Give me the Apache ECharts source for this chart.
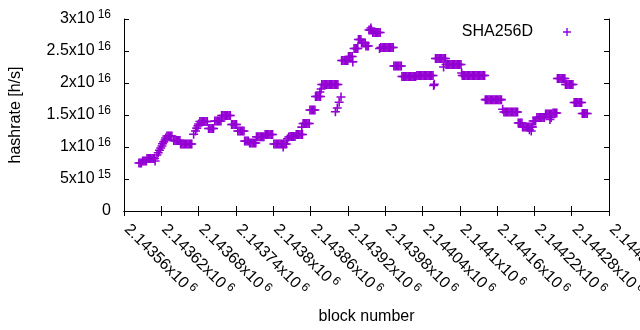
<!DOCTYPE html>
<html>
<head>
<meta charset="UTF-8">
<title>SHA256D hashrate</title>
<script src="https://cdn.jsdelivr.net/npm/echarts@6/dist/echarts.min.js"></script>
<style>
	html, body { margin: 0; padding: 0; background: #fff; }
	#chart { width: 640px; height: 330px; }
</style>
</head>
<body>
<div id="chart"></div>
<script>
	// runs of blocks sharing one hashrate level (hashrate in units of 1e15 h/s)
	var runBlocks = [
		[2143584, 2143586, 2143588],
		[2143590, 2143592, 2143594, 2143596],
		[2143597, 2143599, 2143601, 2143603, 2143605, 2143607, 2143609],
		[2143629, 2143631, 2143633, 2143635, 2143637],
		[2143640, 2143642, 2143644, 2143646, 2143648, 2143650],
		[2143651, 2143653, 2143655, 2143657, 2143659, 2143661, 2143663, 2143665, 2143667, 2143669],
		[2143682, 2143684, 2143686, 2143688, 2143690, 2143692, 2143694],
		[2143696, 2143698, 2143700, 2143702, 2143704],
		[2143706, 2143708, 2143710, 2143712, 2143714, 2143716],
		[2143717, 2143719, 2143721, 2143723, 2143725, 2143727, 2143729, 2143731],
		[2143733, 2143735, 2143737, 2143739, 2143741],
		[2143743, 2143745, 2143747, 2143749, 2143751, 2143753],
		[2143754, 2143756, 2143758, 2143760],
		[2143762, 2143764, 2143766, 2143768, 2143770, 2143772],
		[2143773, 2143775, 2143777, 2143779, 2143781, 2143783, 2143785],
		[2143787, 2143789, 2143791, 2143793, 2143795, 2143797, 2143799],
		[2143801, 2143803, 2143805, 2143807, 2143809, 2143811, 2143813, 2143815, 2143817, 2143819, 2143821],
		[2143827, 2143829, 2143831, 2143833, 2143835],
		[2143837, 2143839, 2143841, 2143843, 2143845, 2143847],
		[2143848, 2143850, 2143852, 2143854, 2143856, 2143858],
		[2143859, 2143861, 2143863, 2143865, 2143867],
		[2143868, 2143870, 2143872, 2143874, 2143876],
		[2143878, 2143880, 2143882, 2143884, 2143886, 2143888, 2143890, 2143892, 2143894, 2143896, 2143898, 2143900, 2143902, 2143904],
		[2143910, 2143912, 2143914, 2143916, 2143918, 2143920],
		[2143921, 2143923, 2143925, 2143927],
		[2143930, 2143932, 2143934, 2143936],
		[2143937, 2143939, 2143941],
		[2143942, 2143944, 2143946, 2143948],
		[2143949, 2143951, 2143953],
		[2143954, 2143956, 2143958],
		[2143960, 2143962, 2143964, 2143966, 2143968, 2143970, 2143972],
		[2143973, 2143975, 2143977, 2143979, 2143981, 2143983, 2143985, 2143987, 2143989, 2143991, 2143993],
		[2143994, 2143996, 2143998, 2144000, 2144002, 2144004, 2144006],
		[2144007, 2144009, 2144011, 2144013, 2144015, 2144017, 2144019, 2144021, 2144023, 2144025, 2144027, 2144029],
		[2144031, 2144033, 2144035, 2144037, 2144039, 2144041, 2144043, 2144045, 2144047, 2144049, 2144051, 2144053, 2144055, 2144057],
		[2144061, 2144063, 2144065, 2144067, 2144069, 2144071, 2144073, 2144075, 2144077],
		[2144078, 2144080, 2144082, 2144084, 2144086, 2144088, 2144090, 2144092, 2144094, 2144096, 2144098, 2144100, 2144102],
		[2144104, 2144106, 2144108, 2144110, 2144112, 2144114, 2144116, 2144118, 2144120, 2144122, 2144124, 2144126, 2144128, 2144130, 2144132, 2144134, 2144136, 2144138, 2144140],
		[2144141, 2144143, 2144145, 2144147, 2144149, 2144151, 2144153, 2144155, 2144157, 2144159, 2144161, 2144163, 2144165, 2144167],
		[2144171, 2144173, 2144175, 2144177, 2144179, 2144181, 2144183, 2144185, 2144187, 2144189, 2144191, 2144193],
		[2144194, 2144196, 2144198, 2144200],
		[2144201, 2144203, 2144205, 2144207, 2144209, 2144211, 2144213, 2144215, 2144217],
		[2144218, 2144220, 2144222],
		[2144224, 2144226, 2144228, 2144230, 2144232, 2144234, 2144236],
		[2144238, 2144240, 2144242, 2144244, 2144246, 2144248],
		[2144250, 2144252, 2144254, 2144256],
		[2144257, 2144259, 2144261, 2144263, 2144265, 2144267, 2144269],
		[2144270, 2144272, 2144274, 2144276, 2144278, 2144280, 2144282],
		[2144284, 2144286, 2144288, 2144290, 2144292, 2144294, 2144296],
		[2144297, 2144299, 2144301, 2144303, 2144305]
	];
	var runHashrate = [
		7.5, 7.8, 8.2, 11.72, 11.0, 10.47, 13.98, 12.89, 14.06, 14.92,
		13.52, 12.5, 10.94, 10.63, 11.6, 11.95, 10.47, 11.64, 11.95, 13.67,
		15.78, 17.89, 19.77, 23.52, 24.14, 25.39, 26.8, 26.25, 25.78, 28.28,
		27.89, 25.55, 22.66, 21.02, 21.17, 23.83, 22.89, 21.17, 17.4, 15.47,
		13.75, 13.13, 14.06, 14.61, 15.16, 15.31, 20.7, 19.77, 16.95, 15.23
	];
	// single blocks off the runs
	var singleBlocks = [
		2143610, 2143613, 2143615, 2143617, 2143619, 2143621, 2143622, 2143624, 2143626, 2143627,
		2143672, 2143675, 2143677, 2143679, 2143680, 2143816, 2143823, 2143825, 2143846, 2143875,
		2143877, 2143900, 2143903, 2143906, 2143909, 2143928, 2143957, 2143971, 2144058, 2144059,
		2144074, 2144103, 2144169, 2144212, 2144215, 2144245, 2144247
	];
	var singleHashrate = [
		7.8, 8.75, 9.1, 9.5, 9.85, 10.15, 10.5, 10.8, 11.1, 11.4,
		12.0, 12.5, 12.95, 13.3, 13.6, 10.0, 11.3, 11.55, 13.1, 18.6,
		19.05, 15.5, 16.1, 17.0, 17.8, 23.3, 28.6, 25.4, 19.6, 19.8,
		22.5, 21.56, 15.9, 12.7, 12.5, 14.3, 14.6
	];

	var points = [];
	runBlocks.forEach(function (blocks, i) {
		blocks.forEach(function (b) { points.push([b, runHashrate[i] * 1e15]); });
	});
	singleBlocks.forEach(function (b, i) { points.push([b, singleHashrate[i] * 1e15]); });

	var FONT = 'Liberation Sans';
	var PURPLE = '#9400d3';
	var CROSS = 'path://M0,3.3H3.3V0H4.7V3.3H8V4.7H4.7V8H3.3V4.7H0Z';
	var richY = {
		m: { fontFamily: FONT, fontSize: 16, color: '#000', lineHeight: 20 },
		s: { fontFamily: FONT, fontSize: 12, color: '#000', lineHeight: 12, verticalAlign: 'top', padding: [0, 0, 0, 3] }
	};
	var richX = {
		m: { fontFamily: FONT, fontSize: 16, color: '#000', lineHeight: 20, padding: [0, 0, 0, 4] },
		s: { fontFamily: FONT, fontSize: 12, color: '#000', lineHeight: 12, verticalAlign: 'top', padding: [0, 0, 0, 3] }
	};

	function sciY(v) {
		if (v === 0) return '{m|0}';
		var e = Math.floor(Math.log10(v) + 1e-9);
		var m = +(v / Math.pow(10, e)).toFixed(5);
		return '{m|' + m + 'x10}{s|' + e + '}';
	}
	function sciX(v) {
		return '{m|' + (+(v / 1e6).toFixed(5)) + 'x10}{s|6}';
	}

	var chart = echarts.init(document.getElementById('chart'), null, { renderer: 'canvas' });
	chart.setOption({
		animation: false,
		backgroundColor: '#fff',
		textStyle: { fontFamily: FONT },
		grid: { left: 124, right: 31, top: 19, bottom: 119, containLabel: false, outerBoundsMode: 'none' },
		legend: {
			right: 64, top: 19, align: 'right',
			itemWidth: 58, itemHeight: 8,
			textStyle: { fontFamily: FONT, fontSize: 16, color: '#000' },
			data: ['SHA256D']
		},
		xAxis: [{
			type: 'value', min: 2143560, max: 2144340, interval: 60,
			name: 'block number', nameLocation: 'middle', nameGap: 98,
			nameTextStyle: { fontFamily: FONT, fontSize: 16, color: '#000' },
			axisLine: { lineStyle: { color: '#000', width: 1 } },
			axisTick: { inside: true, length: 5, lineStyle: { color: '#000' } },
			splitLine: { show: false },
			axisLabel: { rotate: -45, margin: 13, formatter: sciX, rich: richX, showMinLabel: true, showMaxLabel: true, hideOverlap: false }
		}, {
			type: 'value', position: 'top', min: 2143560, max: 2144340, interval: 60,
			axisLine: { lineStyle: { color: '#000', width: 1 } },
			axisTick: { inside: true, length: 5, lineStyle: { color: '#000' } },
			axisLabel: { show: false }, splitLine: { show: false }
		}],
		yAxis: [{
			type: 'value', min: 0, max: 3e16, interval: 5e15,
			name: 'hashrate [h/s]', nameLocation: 'middle', nameGap: 100, nameRotate: 90,
			nameTextStyle: { fontFamily: FONT, fontSize: 16, color: '#000' },
			axisLine: { show: true, lineStyle: { color: '#000', width: 1 } },
			axisTick: { show: true, inside: true, length: 5, lineStyle: { color: '#000' } },
			splitLine: { show: false },
			axisLabel: { margin: 13, formatter: sciY, rich: richY, showMinLabel: true, showMaxLabel: true }
		}, {
			type: 'value', position: 'right', min: 0, max: 3e16, interval: 5e15,
			axisLine: { show: true, lineStyle: { color: '#000', width: 1 } },
			axisTick: { show: true, inside: true, length: 5, lineStyle: { color: '#000' } },
			axisLabel: { show: false }, splitLine: { show: false }
		}],
		series: [{
			name: 'SHA256D',
			type: 'scatter',
			symbol: CROSS,
			symbolSize: 9,
			itemStyle: { color: PURPLE, opacity: 1 },
			data: points
		}]
	});
</script>
</body>
</html>
